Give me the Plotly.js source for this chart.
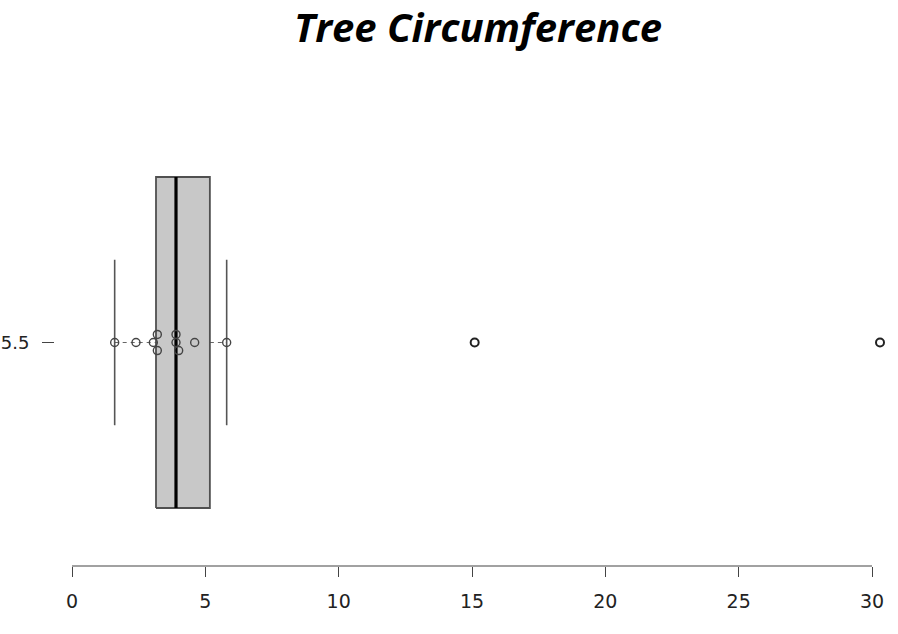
<!DOCTYPE html>
<html>
<head>
<meta charset="utf-8">
<script src="https://cdn.plot.ly/plotly-3.0.1.min.js"></script>
<style>html,body{margin:0;padding:0;background:#fff;}#chart{width:898px;height:634px;}</style>
</head>
<body>
<div id="chart"></div>
<script>
// Box-plot statistics
var statNames = ["lowerWhisker", "q1", "median", "q3", "upperWhisker"];
var statValues = [1.6, 3.15, 3.9, 5.17, 5.8];
var groupPosition = 5.5;
// Individual observations (value, stack level)
var pointValues = [1.6, 2.4, 3.05, 3.2, 3.2, 3.9, 3.9, 4.0, 4.6, 5.8];
var pointStack  = [0, 0, 0, 1, -1, 0, 1, -1, 0, 0];
// Outliers
var outlierValues = [15.1, 30.3];
// Axis ticks
var xTicks = [0, 5, 10, 15, 20, 25, 30];
var yTickLabels = ["5.5"];

var lw = statValues[0], q1 = statValues[1], med = statValues[2], q3 = statValues[3], uw = statValues[4];
var y0 = groupPosition, hb = 0.4, hs = 0.2, st = 0.0195;

var traces = [
  // dashed whiskers
  {x: [lw, q1, null, q3, uw], y: [y0, y0, null, y0, y0], mode: 'lines', type: 'scatter',
   line: {color: '#666', width: 1.2, dash: '4px,4px'}, hoverinfo: 'skip', showlegend: false},
  // staples
  {x: [lw, lw, null, uw, uw], y: [y0 - hs, y0 + hs, null, y0 - hs, y0 + hs], mode: 'lines', type: 'scatter',
   line: {color: '#555', width: 1.6}, hoverinfo: 'skip', showlegend: false},
  // box
  {x: [q1, q3, q3, q1, q1], y: [y0 - hb, y0 - hb, y0 + hb, y0 + hb, y0 - hb], mode: 'lines', type: 'scatter',
   fill: 'toself', fillcolor: '#c8c8c8', line: {color: '#505050', width: 1.8}, hoverinfo: 'skip', showlegend: false},
  // median
  {x: [med, med], y: [y0 - hb, y0 + hb], mode: 'lines', type: 'scatter',
   line: {color: '#000', width: 3.2}, hoverinfo: 'skip', showlegend: false},
  // points
  {x: pointValues, y: pointStack.map(function (s) { return y0 + s * st; }), mode: 'markers', type: 'scatter',
   marker: {symbol: 'circle-open', size: 8, color: '#444', line: {width: 1.4, color: '#444'}}, showlegend: false, cliponaxis: false},
  // outliers
  {x: outlierValues, y: outlierValues.map(function () { return y0; }), mode: 'markers', type: 'scatter',
   marker: {symbol: 'circle-open', size: 8, color: '#222', line: {width: 2, color: '#222'}}, showlegend: false, cliponaxis: false}
];

var layout = {
  width: 898, height: 634,
  margin: {l: 55, r: 8, t: 100, b: 68},
  paper_bgcolor: '#fff', plot_bgcolor: '#fff',
  showlegend: false,
  title: {text: '<b><i>Tree Circumference</i></b>', x: 478 / 898, xref: 'container', xanchor: 'center',
          y: 1 - 28 / 634, yref: 'container', yanchor: 'middle',
          font: {family: 'Open Sans', size: 40, color: '#000'}},
  xaxis: {range: [-0.6375, 30.675], tickvals: xTicks, ticktext: xTicks.map(String),
          ticks: 'outside', ticklen: 10, tickwidth: 1, tickcolor: '#444',
          showline: false, showgrid: false, zeroline: false, ticklabelstandoff: 8,
          tickfont: {family: 'DejaVu Sans', size: 19, color: '#222'}},
  yaxis: {range: [4.9598, 6.0861], tickvals: [groupPosition], ticktext: yTickLabels,
          ticks: 'outside', ticklen: 12, tickwidth: 1, tickcolor: '#444',
          showline: false, showgrid: false, zeroline: false, ticklabelstandoff: 9,
          tickfont: {family: 'DejaVu Sans', size: 18, color: '#222'}},
  shapes: [{type: 'line', xref: 'x', yref: 'paper', x0: xTicks[0], x1: xTicks[xTicks.length - 1], y0: 0, y1: 0,
            line: {color: '#444', width: 1.2}}]
};
Plotly.newPlot('chart', traces, layout, {displayModeBar: false, staticPlot: true});
</script>
</body>
</html>
